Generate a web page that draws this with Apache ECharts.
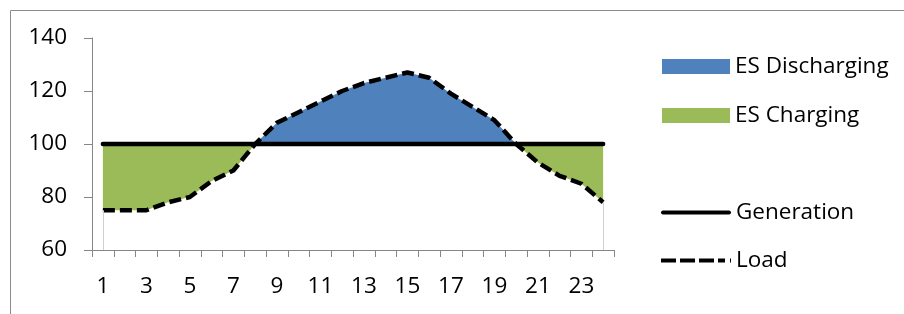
<!DOCTYPE html>
<html>
<head>
<meta charset="utf-8">
<script src="https://cdn.jsdelivr.net/npm/echarts@6/dist/echarts.min.js"></script>
<style>
  html,body{margin:0;padding:0;background:#fff;}
  #main{width:904px;height:314px;}
</style>
</head>
<body>
<div id="main"></div>
<script>
// data
var hours = ['1','2','3','4','5','6','7','8','9','10','11','12','13','14','15','16','17','18','19','20','21','22','23','24'];
var load = [75,75,75,78,80,86,90,100,108,112,116,120,123,125,127,125,119,114,109,100,93,88,85,78];
var generation = [100,100,100,100,100,100,100,100,100,100,100,100,100,100,100,100,100,100,100,100,100,100,100,100];
var yTicks = [60,80,100,120,140];

// stacked pieces for the filled areas
var base = load.map(function(v,i){ return Math.min(v, generation[i]); });
var charging = load.map(function(v,i){ return generation[i] - Math.min(v, generation[i]); });
var discharging = load.map(function(v,i){ return Math.max(v, generation[i]) - generation[i]; });

var font = 'Open Sans';
// legend icons for the two lines (solid / dashed)
var solidIcon = 'path://M2,0H68A2,2,0,0,1,68,4H2A2,2,0,0,1,2,0Z';
var dashIcon = 'path://M0,0H15V4H0Z M19,0H34V4H19Z M38,0H53V4H38Z M57,0H64V4H57Z M69,0H70V4H69Z';

var chart = echarts.init(document.getElementById('main'));
chart.setOption({
  animation:false,
  textStyle:{fontFamily:font},
  graphic:[{
    type:'rect', shape:{x:10.5,y:10.5,width:900,height:320},
    style:{fill:'none',stroke:'#8c8c8c',lineWidth:1}, silent:true
  }],
  grid:{left:92,right:290,top:38,bottom:64},
  legend:[{
    data:[{name:'ES Discharging',icon:'rect'},{name:'ES Charging',icon:'rect'}],
    orient:'vertical', left:657, top:50,
    itemWidth:68, itemHeight:15, itemGap:26,
    textStyle:{fontSize:22.5,color:'#000',fontFamily:font}
  },{
    data:[{name:'Generation',icon:solidIcon},{name:'Load',icon:dashIcon}],
    orient:'vertical', left:656, top:196,
    itemWidth:70, itemHeight:4, itemGap:25,
    itemStyle:{color:'#000'},
    textStyle:{fontSize:22.5,color:'#000',fontFamily:font}
  }],
  xAxis:{
    type:'category', data:hours, boundaryGap:true,
    axisLine:{lineStyle:{color:'#868686',width:1}},
    axisTick:{show:true,interval:0,length:7,lineStyle:{color:'#868686'}},
    axisLabel:{interval:1,fontSize:22.5,color:'#000',margin:25,fontFamily:font}
  },
  yAxis:{
    type:'value', min:yTicks[0], max:yTicks[yTicks.length-1], interval:20,
    axisLine:{show:true,lineStyle:{color:'#868686',width:1}},
    axisTick:{show:true,length:8,lineStyle:{color:'#868686'}},
    axisLabel:{fontSize:22.5,color:'#000',margin:25,fontFamily:font},
    splitLine:{show:false}
  },
  series:[{
    name:'base', type:'line', stack:'es', data:base,
    symbol:'none', lineStyle:{width:0,opacity:0}, silent:true,
    markLine:{
      silent:true, symbol:'none', label:{show:false},
      lineStyle:{color:'#d0d0d0',width:1,type:'solid'},
      data:[
        [{coord:[hours[0],yTicks[0]]},{coord:[hours[0],load[0]]}],
        [{coord:[hours[23],yTicks[0]]},{coord:[hours[23],load[23]]}]
      ]
    }
  },{
    name:'ES Charging', type:'line', stack:'es', data:charging,
    symbol:'none', itemStyle:{color:'#9BBB59'},
    lineStyle:{width:0,opacity:0}, areaStyle:{color:'#9BBB59',opacity:1}
  },{
    name:'ES Discharging', type:'line', stack:'es', data:discharging,
    symbol:'none', itemStyle:{color:'#4F81BD'},
    lineStyle:{width:0,opacity:0}, areaStyle:{color:'#4F81BD',opacity:1}
  },{
    name:'Generation', type:'line', data:generation,
    symbol:'none', itemStyle:{color:'#000'},
    lineStyle:{color:'#000',width:4.5,cap:'round'}
  },{
    name:'Load', type:'line', data:load,
    symbol:'none', itemStyle:{color:'#000'},
    lineStyle:{color:'#000',width:4.5,type:[12,5]}
  }]
});
</script>
</body>
</html>
